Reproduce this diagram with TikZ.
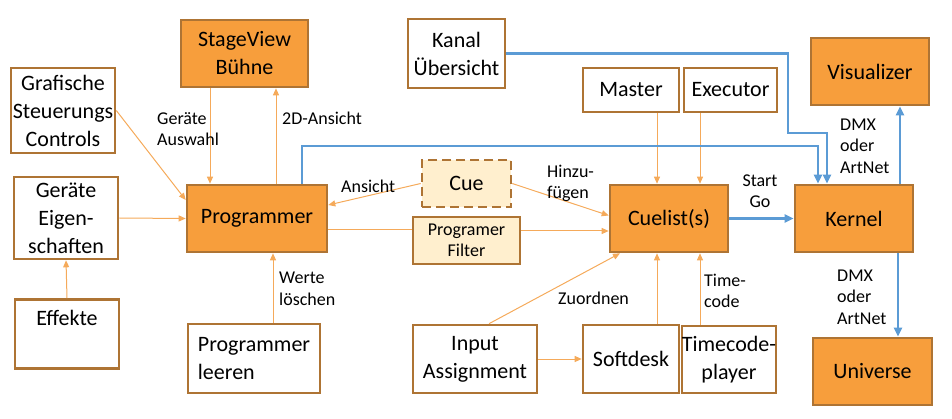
\documentclass[tikz,border=0pt]{standalone}
\usepackage{fontspec}
\setmainfont{Carlito}
\usetikzlibrary{arrows.meta}

\definecolor{boxfill}{RGB}{247,158,60}
\definecolor{boxline}{RGB}{174,116,52}
\definecolor{paleFill}{RGB}{255,239,206}
\definecolor{linkorange}{RGB}{245,170,90}
\definecolor{linkblue}{RGB}{91,155,213}

\tikzset{
  box/.style={draw=boxline, line width=2.6pt, inner sep=0pt, align=center,
    font=\fontsize{22}{28}\selectfont},
  hot/.style={box, fill=boxfill},
  pale/.style={box, fill=paleFill, font=\fontsize{18}{21}\selectfont},
  lbl/.style={font=\fontsize{18}{21.5}\selectfont, inner sep=0pt, align=left, anchor=west},
  link/.style={draw=linkorange, line width=1pt, -{Triangle[length=7pt,width=6pt]}},
  bus/.style={draw=linkblue, line width=2.8pt, -{Triangle[length=9pt,width=8pt]}}
}

\begin{document}
\begin{tikzpicture}[x=1pt,y=-1pt]

\useasboundingbox (0,0) rectangle (952,419);

\node [hot, minimum width=127pt, minimum height=67pt] (stage) at (244.5,53.5) {StageView\\Bühne};
\node [box, minimum width=104pt, minimum height=85pt] (grafik) at (63,110.5) {Grafische\\Steuerungs\\Controls};
\node [box, minimum width=104pt, minimum height=82pt] (geraete) at (66,218) {Geräte\\Eigen-\\schaften};
\node [box, minimum width=104pt, minimum height=69pt, text height=24pt, text depth=42pt] (effekte) at (67,334) {Effekte};
\node [hot, minimum width=140pt, minimum height=67pt] (prog) at (257,218.5) {Programmer};
\node [box, minimum width=132pt, minimum height=69pt, align=left] (leeren) at (254,358.5) {Programmer\\leeren};

\node [box, minimum width=97pt, minimum height=69pt] (kanal) at (456.5,53.5) {Kanal\\Übersicht};
\node [box, minimum width=96pt, minimum height=44pt] (master) at (631,90) {Master};
\node [box, minimum width=93pt, minimum height=44pt] (executor) at (730.5,90) {Executor};
\node [box, fill=paleFill, dashed, dash pattern=on 9pt off 5pt, minimum width=89pt, minimum height=47pt] (cue) at (466.5,183.5) {Cue};
\node [pale, minimum width=107pt, minimum height=47pt] (filter) at (466.5,240.5) {Programer\\Filter};
\node [hot, minimum width=118pt, minimum height=67pt] (cuelist) at (669,218.5) {Cuelist(s)};
\node [box, minimum width=124pt, minimum height=68pt] (input) at (475,359) {Input\\Assignment};
\node [box, minimum width=96pt, minimum height=68pt] (softdesk) at (631,359) {Softdesk};
\node [box, minimum width=90pt, minimum height=67pt] (timecode) at (729,359.5) {Timecode-\\player};

\node [hot, minimum width=118pt, minimum height=67pt] (visual) at (870,71.5) {Visualizer};
\node [hot, minimum width=118pt, minimum height=67pt] (kernel) at (854,218.5) {Kernel};
\node [hot, minimum width=119pt, minimum height=67pt] (universe) at (872.5,371.5) {Universe};

\coordinate (kbend) at (788,133);
\coordinate (pbend) at (818,146);

\draw [link] ([xshift=-34.5pt]stage.south) -- ([xshift=-34.5pt]stage.south |- prog.north);
\draw [link] ([xshift=19pt]prog.north) -- ([xshift=31.5pt]stage.south);
\draw [link] (grafik.east) -- ([yshift=18.5pt]prog.west);
\draw [link] (geraete.east) -- (prog.west);
\draw [link] (effekte.north) -- (geraete.south);
\draw [link] ([xshift=19pt]leeren.north) -- ([xshift=16pt]prog.south);
\draw [link] (cue.west) -- ([yshift=13.5pt]prog.east);
\draw [link] (cue.east) -- ([yshift=3pt]cuelist.west);
\draw [draw=linkorange, line width=1pt] ([yshift=-11.5pt]prog.east) -- ([yshift=-11.5pt]prog.east -| filter.west);
\draw [link] ([yshift=9.5pt]filter.east) -- ([yshift=9.5pt]filter.east -| cuelist.west);
\draw [link] ([xshift=26pt]master.south) -- ([xshift=26pt]master.south |- cuelist.north);
\draw [link] ([xshift=-30.5pt]executor.south) -- ([xshift=-30.5pt]executor.south |- cuelist.north);
\draw [link] ([xshift=26pt]softdesk.north) -- ([xshift=26pt]softdesk.north |- cuelist.south);
\draw [link] ([xshift=-29pt]timecode.north) -- ([xshift=-29pt]timecode.north |- cuelist.south);
\draw [link] ([xshift=14pt]input.north) -- ([xshift=-49pt]cuelist.south);
\draw [link] (input.east) -- (softdesk.west);

\draw [bus] (kanal.east) -| (kbend) -| ([xshift=-27pt]kernel.north);
\draw [bus] ([xshift=45pt]prog.north) |- (pbend) -- ([xshift=-36pt]kernel.north);
\draw [bus] (cuelist.east) -- (kernel.west);
\draw [bus] ([xshift=46pt]kernel.north) -- ([xshift=30pt]visual.south);
\draw [bus] ([xshift=44pt]kernel.south) -- ([xshift=25.5pt]universe.north);

\node [lbl] (lauswahl) at (157,129) {Geräte\\Auswahl};
\node [lbl] (lansicht2d) at (282,118) {2D-Ansicht};
\node [lbl] (lwerte) at (279,289) {Werte\\löschen};
\node [lbl] (lansicht) at (341,186) {Ansicht};
\node [lbl] (lhinzu) at (547,183.5) {Hinzu-\\fügen};
\node [lbl] (lzuordnen) at (558,298) {Zuordnen};
\node [lbl] (ltime) at (704,291) {Time-\\code};
\node [lbl, anchor=center, align=center] (lstart) at (760,191) {Start\\Go};
\node [lbl] (ldmxoben) at (840,146) {DMX\\oder\\ArtNet};
\node [lbl] (ldmxunten) at (837,297) {DMX\\oder\\ArtNet};

\end{tikzpicture}
\end{document}
